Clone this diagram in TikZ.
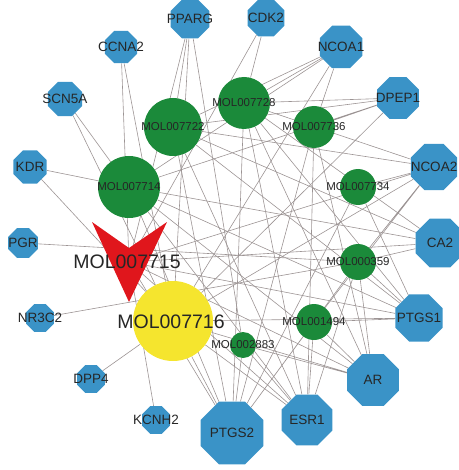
\documentclass[tikz,border=0pt]{standalone}
\usepackage{fontspec}
\setmainfont{Liberation Sans}
\usetikzlibrary{shapes.geometric,backgrounds}
\begin{document}
\begin{tikzpicture}[x=1pt,y=-1pt,
  tlabel/.style={font=\fontsize{13.5}{14}\selectfont,text=black!85},
  mlabel/.style={font=\fontsize{11.5}{12}\selectfont,text=black!85},
  biglabel/.style={font=\fontsize{19.5}{20}\selectfont,text=black!85},
  target/.style={regular polygon,regular polygon sides=8,fill=color1,draw=none,inner sep=0pt,label={[tlabel]center:#1}},
  mol/.style={circle,fill=color2,draw=none,inner sep=0pt,label={[mlabel]center:#1}},
  edge/.style={color5,line width=0.6pt}]
\definecolor{color1}{HTML}{3A93C7}
\definecolor{color2}{HTML}{1B8A3A}
\definecolor{color3}{HTML}{F5E52E}
\definecolor{color4}{HTML}{E0161C}
\definecolor{color5}{HTML}{9C9494}
\useasboundingbox (0,0) rectangle (458,470);
\node[target=PPARG,minimum size=42] (pparg) at (190,19) {};
\node[target=CDK2,minimum size=40] (cdk2) at (266,18) {};
\node[target=CCNA2,minimum size=35] (ccna2) at (121,47) {};
\node[target=NCOA1,minimum size=46] (ncoa1) at (341,47) {};
\node[target=SCN5A,minimum size=37] (scn5a) at (65,99) {};
\node[target=DPEP1,minimum size=45] (dpep1) at (398,98) {};
\node[target=KDR,minimum size=36] (kdr) at (30,167) {};
\node[target=NCOA2,minimum size=50] (ncoa2) at (434,167) {};
\node[target=PGR,minimum size=32] (pgr) at (23,243) {};
\node[target=CA2,minimum size=53] (ca2) at (440,243) {};
\node[target=NR3C2,minimum size=30] (nr3c2) at (40,318) {};
\node[target=PTGS1,minimum size=51] (ptgs1) at (419,318) {};
\node[target=DPP4,minimum size=30] (dpp4) at (91,379) {};
\node[target=AR,minimum size=56] (ar) at (373,380) {};
\node[target=KCNH2,minimum size=30] (kcnh2) at (156,420) {};
\node[target=ESR1,minimum size=55] (esr1) at (307,420) {};
\node[target=PTGS2,minimum size=68] (ptgs2) at (232,433) {};
\node[mol=MOL007722,minimum size=58] (m22) at (173,127) {};
\node[mol=MOL007728,minimum size=52] (m28) at (244,103) {};
\node[mol=MOL007736,minimum size=42] (m36) at (314,127) {};
\node[mol=MOL007714,minimum size=62] (m14) at (129,187) {};
\node[mol=MOL007734,minimum size=36] (m34) at (358,187) {};
\node[mol=MOL000359,minimum size=36] (m59) at (358,262) {};
\node[mol=MOL001494,minimum size=36] (m94) at (314,322) {};
\node[mol=MOL002883,minimum size=26] (m83) at (243,345) {};
\node[circle,fill=color3,draw=none,inner sep=0pt,minimum size=80] (m16) at (173,321) {};
\coordinate (m15) at (129,262);
\fill[color4] (92,222) -- (129,248) -- (167,222) -- (129,302) -- cycle;
\node[biglabel] (m15text) at (127,262) {MOL007715};
\node[biglabel] (m16text) at (171,322) {MOL007716};
\begin{scope}[on background layer]
\draw[edge] (pparg) -- (m22) (pparg) -- (m15) (pparg) -- (m16) (pparg) -- (m83);
\draw[edge] (cdk2) -- (m28) (cdk2) -- (m15);
\draw[edge] (ccna2) -- (m15) (ccna2) -- (m16);
\draw[edge] (scn5a) -- (m14) (scn5a) -- (m16);
\draw[edge] (kdr) -- (m14) (kdr) -- (m16);
\draw[edge] (pgr) -- (m59);
\draw[edge] (nr3c2) -- (m59);
\draw[edge] (dpp4) -- (m16);
\draw[edge] (kcnh2) -- (m15);
\draw[edge] (ncoa1) -- (m28) (ncoa1) -- (m22) (ncoa1) -- (m14) (ncoa1) -- (m36) (ncoa1) -- (m16);
\draw[edge] (dpep1) -- (m36) (dpep1) -- (m28) (dpep1) -- (m22) (dpep1) -- (m14) (dpep1) -- (m16);
\draw[edge] (ncoa2) -- (m34) (ncoa2) -- (m59) (ncoa2) -- (m15) (ncoa2) -- (m16) (ncoa2) -- (m94) (ncoa2) -- (m22) (ncoa2) -- (m28);
\draw[edge] (ca2) -- (m59) (ca2) -- (m15) (ca2) -- (m14) (ca2) -- (m22) (ca2) -- (m28);
\draw[edge] (ptgs1) -- (m94) (ptgs1) -- (m15) (ptgs1) -- (m16) (ptgs1) -- (m59) (ptgs1) -- (m34) (ptgs1) -- (m22) (ptgs1) -- (m14) (ptgs1) -- (m28);
\draw[edge] (ar) -- (m16) (ar) -- (m15) (ar) -- (m14) (ar) -- (m83) (ar) -- (m94) (ar) -- (m36) (ar) -- (m28) (ar) -- (m59);
\draw[edge] (esr1) -- (m16) (esr1) -- (m15) (esr1) -- (m14) (esr1) -- (m22) (esr1) -- (m28) (esr1) -- (m94) (esr1) -- (m59) (esr1) -- (m83) (esr1) -- (m36);
\draw[edge] (ptgs2) -- (m16) (ptgs2) -- (m15) (ptgs2) -- (m14) (ptgs2) -- (m22) (ptgs2) -- (m28) (ptgs2) -- (m83) (ptgs2) -- (m94) (ptgs2) -- (m59) (ptgs2) -- (m34) (ptgs2) -- (m36);
\end{scope}
\end{tikzpicture}
\end{document}
